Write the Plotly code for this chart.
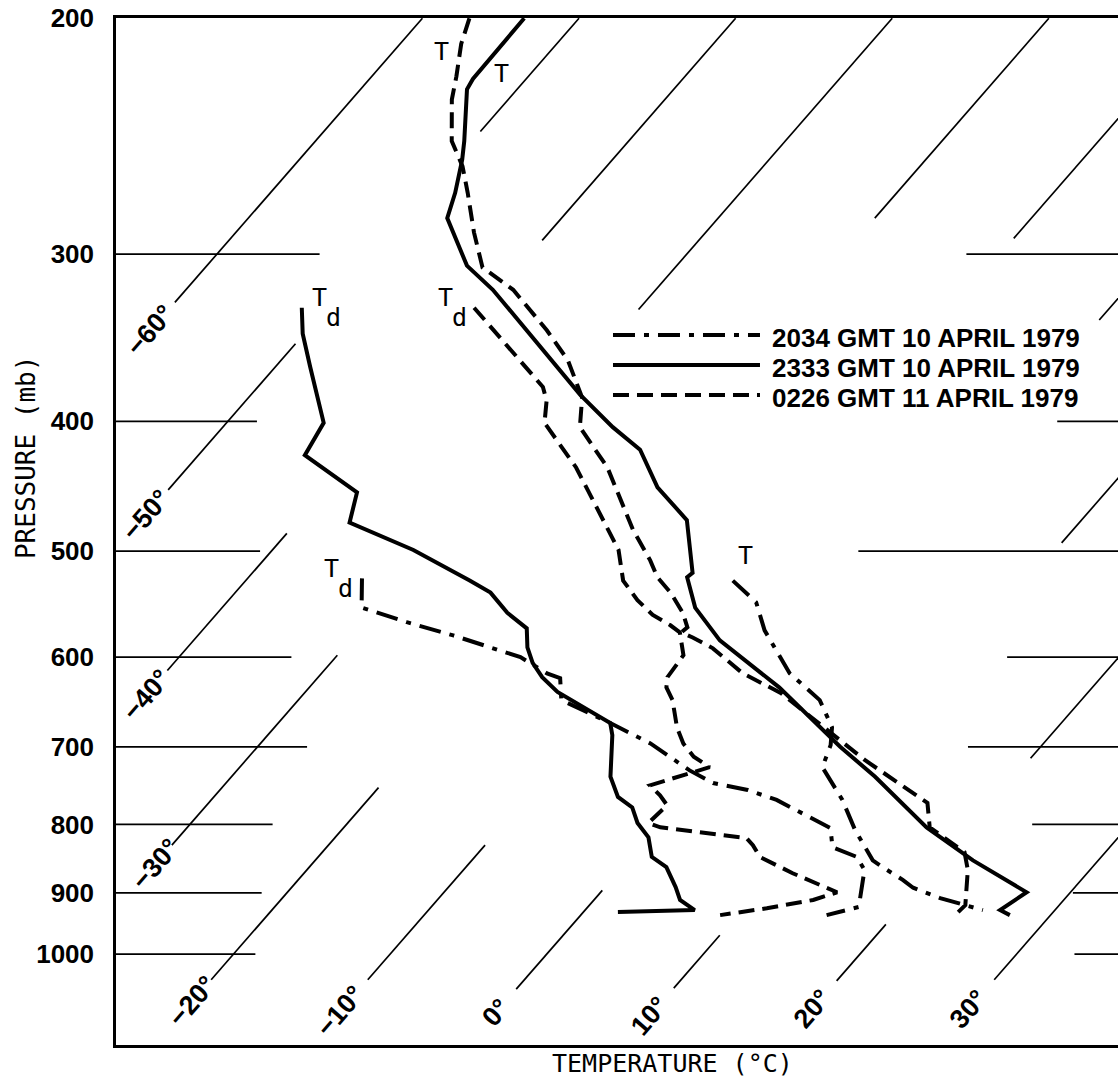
import math
import plotly.graph_objects as go

# ---------------- coordinate system (skew-T / log-p) ----------------
SKEW = 32.35      # skew of isotherms (degC per unit ln p)
P_REF = 1000.0
X_MIN, X_MAX = -27.5, 36.48
P_TOP, P_BOTTOM = 199.9, 1169.0


def skew_x(t, p):
    return t + SKEW * math.log(P_REF / p)


# ---------------- data ----------------
# 2034 GMT 10 APRIL 1979 (dash-dot)
P_T_2034 = [526, 546, 573, 588, 617, 646, 677, 698, 725, 767, 808, 851, 859, 880, 892, 908, 927]
T_2034 = [-8.9, -6.2, -4.1, -2.7, -0.1, 3.3, 5.6, 6.5, 7.2, 10.3, 12.8, 15.6, 16.4, 18.6, 19.7, 22.0, 25.4]
P_TD_2034 = [524, 551, 565, 578, 600, 617, 622, 646, 672, 696, 729, 745, 754, 767, 805, 832, 846, 865, 922, 935]
TD_2034 = [-32.7, -31.1, -27.4, -23.7, -18.2, -15.6, -14.5, -13.2, -8.8, -5.1, -1.1, 1.1, 3.7, 6.1, 11.1, 12.3, 14.4, 15.6, 17.3, 15.7]

# 2333 GMT 10 APRIL 1979 (solid)
P_T_2333 = [200, 222, 226, 247, 255, 270, 282, 306, 319, 344, 382, 404, 420, 448, 474, 519, 523, 551, 583,
            632, 669, 700, 737, 804, 851, 899, 927, 935]
T_2333 = [-53.5, -53.4, -53.2, -50.5, -49.6, -48.2, -47.3, -43.4, -40.4, -35.6, -29.0, -25.1, -22.1, -18.9,
          -15.2, -11.9, -12.0, -9.8, -6.4, 0.0, 4.0, 7.2, 11.1, 17.2, 22.0, 27.2, 26.5, 27.4]
P_TD_2333 = [329, 344, 364, 401, 424, 452, 476, 491, 499, 526, 537, 556, 571, 590, 606, 621, 637, 672, 686,
             737, 763, 777, 798, 818, 846, 861, 891, 911, 927, 930]
TD_2333 = [-51.6, -50.1, -47.8, -43.8, -43.2, -37.8, -36.6, -33.0, -31.0, -25.7, -23.7, -21.5, -19.4, -18.3,
           -17.1, -15.7, -13.9, -8.8, -8.0, -5.8, -4.2, -2.7, -1.5, 0.0, 1.3, 2.8, 4.5, 5.5, 7.0, 2.2]

# 0226 GMT 11 APRIL 1979 (dashed)
P_T_0226 = [200, 209, 221, 230, 247, 258, 270, 289, 307, 319, 342, 360, 384, 404, 433, 482, 508, 523, 537,
            556, 570, 575, 580, 591, 617, 638, 678, 716, 771, 804, 839, 865, 919, 936]
T_0226 = [-57.0, -56.1, -54.6, -53.6, -51.3, -49.2, -47.4, -44.8, -42.3, -39.1, -34.7, -31.7, -28.7, -27.2,
          -23.2, -18.1, -15.3, -13.9, -12.2, -10.3, -9.2, -9.3, -8.3, -6.4, -3.1, 0.4, 5.2, 9.5, 15.9, 17.4,
          21.0, 22.2, 24.0, 23.9]
P_TD_0226 = [329, 377, 386, 401, 433, 499, 526, 544, 558, 568, 575, 598, 621, 632, 646, 677, 696, 712, 725,
             748, 761, 774, 798, 804, 819, 829, 846, 870, 899, 911, 924, 935]
TD_0226 = [-40.6, -31.8, -30.8, -29.7, -25.2, -17.9, -15.9, -13.9, -12.1, -10.4, -9.4, -7.9, -7.7, -7.2,
           -6.1, -4.3, -3.0, -1.6, 0.0, -2.8, -1.6, -0.6, -0.8, 0.2, 6.3, 7.1, 8.2, 11.2, 15.1, 14.0, 11.5, 8.9]

SERIES_NAMES = ["2034 GMT 10 APRIL 1979", "2333 GMT 10 APRIL 1979", "0226 GMT 11 APRIL 1979"]

# background grid of the diagram
PRESSURE_TICKS = [200, 300, 400, 500, 600, 700, 800, 900, 1000]
ISO_T = [-60, -50, -40, -30, -20, -10, 0, 10, 20, 30]
ISO_SEGMENTS = [
    [(200, 326)],
    [(200, 243), (350, 450)],
    [(200, 293), (485, 614)],
    [(200, 330), (598, 829)],
    [(200, 282), (751, 1045)],
    [(200, 292), (829, 1045)],
    [(200, 336), (896, 1062)],
    [(200, 493), (968, 1060)],
    [(200, 714), (950, 1047)],
    [(200, 1045)],
]
ISO_LABEL_P = [342, 470, 640, 856, 1084, 1103, 1106, 1112, 1099, 1099]
GRID_P = [300, 400, 500, 600, 700, 800, 900, 1000]
GRID_LEFT_END = [-14.5, -18.5, -18.3, -16.3, -15.3, -17.5, -18.2, -18.6]
GRID_RIGHT_START = [26.8, 32.6, 19.9, 29.4, 26.9, 31.0, 33.6, 33.7]

# ---------------- figure ----------------
fig = go.Figure()

iso_x, iso_y = [], []
for t, segs in zip(ISO_T, ISO_SEGMENTS):
    for pt, pb in segs:
        iso_x += [skew_x(t, pt), skew_x(t, pb), None]
        iso_y += [pt, pb, None]
fig.add_trace(go.Scatter(x=iso_x, y=iso_y, mode="lines", line=dict(color="black", width=1.7),
                         hoverinfo="skip", showlegend=False))

bar_x, bar_y = [], []
for p, le, rs in zip(GRID_P, GRID_LEFT_END, GRID_RIGHT_START):
    bar_x += [X_MIN, le, None, rs, X_MAX, None]
    bar_y += [p, p, None, p, p, None]
fig.add_trace(go.Scatter(x=bar_x, y=bar_y, mode="lines", line=dict(color="black", width=1.7),
                         hoverinfo="skip", showlegend=False))

DASHES = ["22px,9px,5px,9px", "solid", "16px,8px"]
CURVES = [
    (T_2034, P_T_2034, TD_2034, P_TD_2034),
    (T_2333, P_T_2333, TD_2333, P_TD_2333),
    (T_0226, P_T_0226, TD_0226, P_TD_0226),
]
for name, dash, (t, pt, td, ptd) in zip(SERIES_NAMES, DASHES, CURVES):
    fig.add_trace(go.Scatter(x=[skew_x(a, b) for a, b in zip(t, pt)], y=pt, mode="lines", name=name + " T",
                             line=dict(color="black", width=4, dash=dash), showlegend=False))
    fig.add_trace(go.Scatter(x=[skew_x(a, b) for a, b in zip(td, ptd)], y=ptd, mode="lines", name=name + " Td",
                             line=dict(color="black", width=4, dash=dash), showlegend=False))

LABEL_FONT = dict(family="DejaVu Sans Mono", size=25, color="black")

# isotherm labels
for t, pl in zip(ISO_T, ISO_LABEL_P):
    txt = ("\u2212" + str(abs(t)) if t < 0 else str(t)) + "\u00b0"
    fig.add_annotation(x=skew_x(t, pl), y=math.log10(pl), text="<b>" + txt + "</b>", textangle=-49,
                       showarrow=False, xanchor="center", yanchor="middle",
                       font=dict(family="Liberation Sans", size=27, color="black"))

# curve labels (anchored at first point of each curve)
def curve_label(t, p, text, dx, dy):
    fig.add_annotation(x=skew_x(t, p), y=math.log10(p), text=text, showarrow=False,
                       xshift=dx, yshift=dy, font=LABEL_FONT, xanchor="center", yanchor="middle")

curve_label(T_0226[0], P_T_0226[0], "T", -28, -33)
curve_label(T_2333[0], P_T_2333[0], "T", -23, -55)
curve_label(T_2034[0], P_T_2034[0], "T", 13, 25)
for (td, ptd, dx) in [(TD_2333, P_TD_2333, 18), (TD_0226, P_TD_0226, -29), (TD_2034, P_TD_2034, -30)]:
    curve_label(td[0], ptd[0], "T", dx, 10)
    curve_label(td[0], ptd[0], "d", dx + 14, -10)

# legend drawn manually (long swatches)
LEG_Y = [0.6913, 0.6621, 0.6329]
for name, dash, y in zip(SERIES_NAMES, DASHES, LEG_Y):
    fig.add_shape(type="line", xref="paper", yref="paper", x0=0.496, x1=0.6427, y0=y, y1=y,
                  line=dict(color="black", width=4, dash=dash))
    fig.add_annotation(xref="paper", yref="paper", x=0.6527, y=y - 0.003, text="<b>" + name + "</b>",
                       showarrow=False, xanchor="left", yanchor="middle",
                       font=dict(family="Liberation Sans", size=26, color="black"))

# axis titles
fig.add_annotation(xref="paper", yref="paper", x=0.555, y=0, yshift=-18, text="TEMPERATURE (\u00b0C)",
                   showarrow=False, xanchor="center", yanchor="middle",
                   font=dict(family="DejaVu Sans Mono", size=25, color="black"))
fig.add_annotation(xref="paper", yref="paper", x=-0.0898, y=0.5725, text="PRESSURE (mb)", textangle=-90,
                   showarrow=False, xanchor="center", yanchor="middle",
                   font=dict(family="DejaVu Sans Mono", size=26, color="black"))

fig.update_layout(
    width=1118, height=1083, autosize=False,
    margin=dict(l=116, r=0, t=18, b=38, pad=0),
    plot_bgcolor="white", paper_bgcolor="white", showlegend=False,
    xaxis=dict(range=[X_MIN, X_MAX], showgrid=False, zeroline=False, showticklabels=False, ticks="",
               showline=True, mirror=True, linecolor="black", linewidth=2.5, fixedrange=True),
    yaxis=dict(type="log", range=[math.log10(P_BOTTOM), math.log10(P_TOP)], tickvals=PRESSURE_TICKS,
               ticktext=[str(p) for p in PRESSURE_TICKS], showgrid=False, zeroline=False, ticks="",
               showline=True, linecolor="black", linewidth=2.5, ticklabelstandoff=14,
               tickfont=dict(family="Liberation Sans", size=26, color="black", weight="bold"),
               fixedrange=True),
)

fig.write_html("out.html", config={"displayModeBar": False})
